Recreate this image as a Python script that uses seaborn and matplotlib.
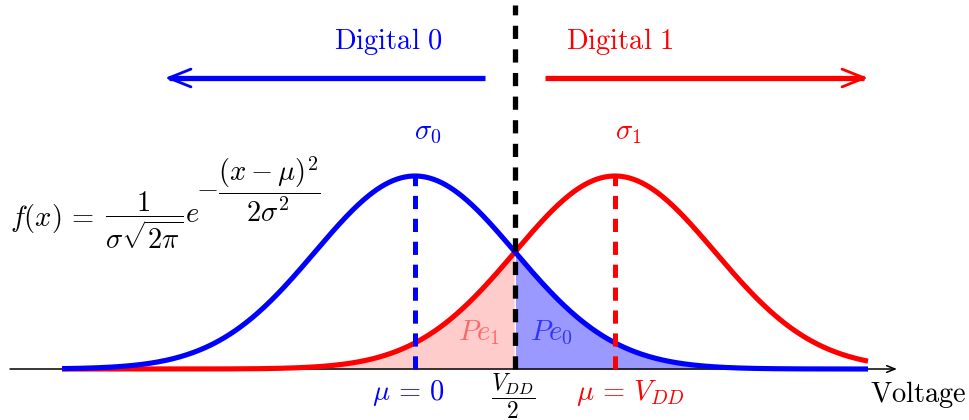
import numpy as np
import pandas as pd
import matplotlib
matplotlib.use("Agg")
import matplotlib.pyplot as plt
import seaborn as sns
from matplotlib.patches import FancyArrowPatch

# Signal levels (in units of V_DD) and their noise spread
signals = ["Digital 0", "Digital 1"]
means = [0.0, 1.0]
sigmas = [0.5, 0.5]
threshold = 0.5            # decision level V_DD / 2
x_range = [-1.765, 2.265]  # plotted voltage span

BLUE = "#0000ff"
RED = "#ff0000"
colors = {"Digital 0": BLUE, "Digital 1": RED}

sns.set_theme(style="white")
plt.rcParams["mathtext.fontset"] = "cm"
plt.rcParams["lines.scale_dashes"] = False
plt.rcParams["text.color"] = "black"


def gauss(x, mu, s):
    return np.exp(-(x - mu) ** 2 / (2 * s ** 2)) / (s * np.sqrt(2 * np.pi))


xs = np.linspace(x_range[0], x_range[1], 600)
frames = []
for name, mu, s in zip(signals, means, sigmas):
    frames.append(pd.DataFrame({"voltage": xs, "density": gauss(xs, mu, s), "signal": name}))
df = pd.concat(frames, ignore_index=True)

fig = plt.figure(figsize=(9.69, 4.2), dpi=100)
ax = fig.add_axes([0, 0, 1, 1])
ax.set_xlim(-2.075, 2.77)
ax.set_ylim(-0.2108, 1.5254)
ax.axis("off")

# error areas
d0 = df[df.signal == "Digital 0"]
d1 = df[df.signal == "Digital 1"]
m1 = d1.voltage <= threshold
ax.fill_between(d1.voltage[m1], 0, d1.density[m1], color=RED, alpha=0.2, lw=0, zorder=1)
m0 = d0.voltage >= threshold
ax.fill_between(d0.voltage[m0], 0, d0.density[m0], color=BLUE, alpha=0.4, lw=0, zorder=1)

# voltage axis
ax.annotate("", xy=(2.41, 0), xytext=(-2.025, 0),
            arrowprops=dict(arrowstyle="->,head_length=0.5,head_width=0.2", lw=1.1, color="black",
                            shrinkA=0, shrinkB=0), zorder=2)

sns.lineplot(data=df, x="voltage", y="density", hue="signal", hue_order=["Digital 1", "Digital 0"],
             palette=colors, lw=3.7, legend=False, ax=ax, zorder=3, solid_capstyle="butt")

# mean markers
for name, mu, s in zip(signals, means, sigmas):
    ax.plot([mu, mu], [0, gauss(mu, mu, s)], color=colors[name], lw=3.6,
            dashes=(9.5, 7.0), zorder=4, solid_capstyle="butt")

# threshold line
ax.plot([threshold, threshold], [0, 1.505], color="black", lw=3.8, dashes=(9.5, 7.5), zorder=5)

# decision arrows
arrow_y = 1.203
for start, end, c in [(0.35, -1.25, BLUE), (0.65, 2.265, RED)]:
    ax.plot([start, end + (0.02 if end < 0 else -0.02)], [arrow_y, arrow_y], color=c, lw=3.8,
            solid_capstyle="butt", zorder=3)
    head = FancyArrowPatch((end + (0.08 if end < 0 else -0.08), arrow_y), (end, arrow_y),
                           arrowstyle="->,head_length=0.8,head_width=0.32", mutation_scale=20,
                           lw=2.0, color=c, shrinkA=0, shrinkB=0, zorder=3)
    ax.add_patch(head)

fs = 20.5
ax.text(-0.135, 1.352, r"$\mathrm{Digital\ 0}$", color=BLUE, fontsize=fs, ha="center", va="center")
ax.text(1.025, 1.352, r"$\mathrm{Digital\ 1}$", color=RED, fontsize=fs, ha="center", va="center")
ax.text(means[0] + 0.065, 0.98, r"$\sigma_0$", color=BLUE, fontsize=fs, ha="center", va="center")
ax.text(means[1] + 0.065, 0.98, r"$\sigma_1$", color=RED, fontsize=fs, ha="center", va="center")

ax.text(0.32, 0.149, r"$Pe_1$", color="#ff6666", fontsize=fs, ha="center", va="center", zorder=6)
ax.text(0.68, 0.149, r"$Pe_0$", color="#3333ff", fontsize=fs, ha="center", va="center", zorder=6)

ax.text(means[0] - 0.035, -0.099, r"$\mu\,=\,0$", color=BLUE, fontsize=fs, ha="center", va="center")
ax.text(threshold - 0.01, -0.112, r"$\dfrac{V_{DD}}{2}$", color="black", fontsize=17,
        ha="center", va="center")
ax.text(means[1] + 0.075, -0.099, r"$\mu\,=\,V_{DD}$", color=RED, fontsize=fs, ha="center", va="center")
ax.text(2.515, -0.107, r"$\mathrm{Voltage}$", color="black", fontsize=fs, ha="center", va="center")

# density formula
ax.text(-2.025, 0.59, r"$f(x)\,=$", fontsize=20.5, ha="left", va="baseline")
ax.text(-1.55, 0.615, r"$\dfrac{1}{\sigma\sqrt{2\pi}}e$", fontsize=20.5, ha="left", va="center")
ax.text(-1.095, 0.745, r"$-\dfrac{(x-\mu)^2}{2\sigma^2}$", fontsize=20.5, ha="left", va="center")

fig.savefig("out.png", dpi=100)
